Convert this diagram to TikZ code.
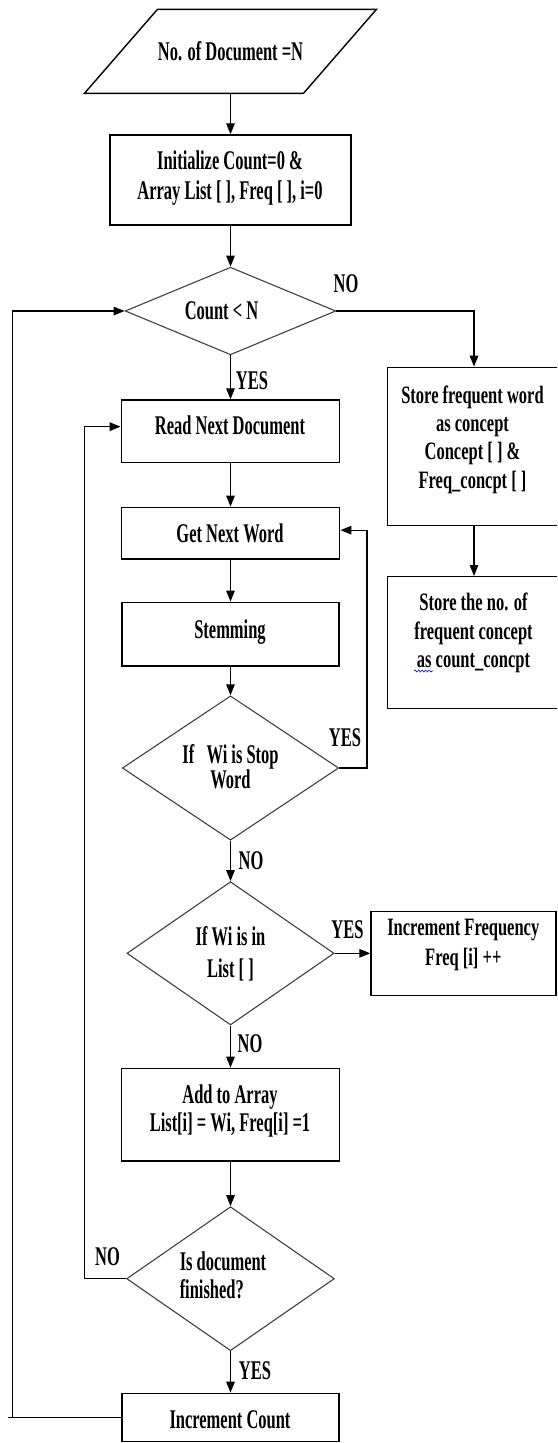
\documentclass[tikz,border=0pt]{standalone}
\usepackage{fontspec}
\newfontfamily\fA{Liberation Serif}[FakeStretch=0.61]
\newfontfamily\fB{Liberation Serif}[FakeStretch=0.66]
\usetikzlibrary{arrows.meta,shapes.geometric,decorations.pathmorphing}
\tikzset{
 procbox/.style={draw, line width=1.4pt, inner sep=0pt, rectangle},
 decision/.style={draw=black!75, line width=1.1pt, diamond, inner sep=0pt},
 maintext/.style={font=\fA\bfseries\fontsize{27}{30}\selectfont, align=center, inner sep=0pt},
 sidetext/.style={font=\fB\bfseries\fontsize{25}{28.5}\selectfont, align=center, inner sep=0pt},
 lbl/.style={font=\fA\bfseries\fontsize{27}{30}\selectfont, inner sep=0pt},
 conn/.style={line width=1.3pt, -{Triangle[length=11pt,width=8.5pt]}},
 plainline/.style={line width=1.3pt},
}
\begin{document}
\begin{tikzpicture}[x=1pt,y=-1pt]
\useasboundingbox (0,0) rectangle (557,1443);
\clip (0,0) rectangle (557,1443);

% input parallelogram
\node[maintext, minimum width=150pt, minimum height=84pt] (inp) at (230.5,51.3) {No. of Document =N};
\draw[line width=1.4pt] (157.5,9.3) -- (376.5,9.3) -- (303.5,93.3) -- (84.5,93.3) -- cycle;

% process boxes
\node[procbox, minimum width=241pt, minimum height=90pt] (init) at (230.5,180) {};
\node[maintext] (initT) at (230,178) {Initialize Count=0 \&\\Array List [ ], Freq [ ], i=0};

\node[decision, minimum width=210.7pt, minimum height=87.6pt] (cnt) at (230.5,311) {};
\node[maintext] (cntT) at (221.5,311) {Count < N};

\node[procbox, minimum width=218.5pt, minimum height=62.3pt] (read) at (230.5,431.15) {};
\node[maintext] (readT) at (230,425) {Read Next Document};

\node[procbox, minimum width=218.5pt, minimum height=51.7pt] (get) at (230.5,533.15) {};
\node[maintext] (getT) at (230,533) {Get Next Word};

\node[procbox, minimum width=217pt, minimum height=63.7pt] (stem) at (230.5,634.15) {};
\node[maintext] (stemT) at (230,632) {Stemming};

\node[decision, minimum width=216.4pt, minimum height=144.3pt] (stop) at (230.5,768) {};
\node[maintext, font=\fA\bfseries\fontsize{27}{25}\selectfont] (stopT) at (230.5,767) {If\ \ \ Wi is Stop\\Word};

\node[decision, minimum width=207.2pt, minimum height=143.3pt] (inl) at (230.5,953.3) {};
\node[maintext, font=\fA\bfseries\fontsize{27}{31.6}\selectfont] (inlT) at (230.5,954) {If Wi is in\\List [ ]};

\node[procbox, minimum width=185pt, minimum height=84pt] (incf) at (463.5,953.3) {};
\node[sidetext, font=\fB\bfseries\fontsize{25}{30}\selectfont] (incfT) at (463.3,945) {Increment Frequency\\Freq [i] ++};

\node[procbox, minimum width=218.5pt, minimum height=92.7pt] (add) at (230.5,1114.65) {};
\node[maintext, font=\fA\bfseries\fontsize{27}{28.3}\selectfont] (addT) at (230,1111) {Add to Array\\List[i] = Wi, Freq[i] =1};

\node[decision, minimum width=207.8pt, minimum height=144pt] (fin) at (230.5,1278.7) {};
\node[maintext, align=left, font=\fA\bfseries\fontsize{27}{28}\selectfont] (finT) at (223,1275) {Is document\\finished?};

\node[procbox, minimum width=217pt, minimum height=48.2pt] (incc) at (230.5,1417.4) {};
\node[maintext] (inccT) at (230,1420) {Increment Count};

% right column (boxes run past the right edge of the picture)
\node[procbox, minimum width=178pt, minimum height=158.4pt] (store1) at (476.5,446.5) {};
\node[sidetext, font=\fB\bfseries\fontsize{25}{28.3}\selectfont] (s1T) at (472.5,439.5) {Store frequent word\\as concept\\Concept [ ] \&\\Freq\_concpt [ ]};

\node[procbox, minimum width=178pt, minimum height=131.6pt] (store2) at (476.5,642.5) {};
\node[sidetext, font=\fB\bfseries\fontsize{25}{28.5}\selectfont] (s2T) at (473.5,633) {Store the no. of\\frequent concept\\as count\_concpt};
\draw[blue!85!black, line width=0.6pt, decorate, decoration={snake, amplitude=1pt, segment length=3.5pt}] (414,671) -- (433,671);

% labels
\node[lbl] (no1) at (346,284) {NO};
\node[lbl] (yes1) at (252,381) {YES};
\node[lbl] (yes2) at (345,738) {YES};
\node[lbl] (no2) at (251,861) {NO};
\node[lbl] (yes3) at (347.5,930) {YES};
\node[lbl] (no3) at (250,1044) {NO};
\node[lbl] (no4) at (107.5,1257) {NO};
\node[lbl] (yes4) at (255,1371) {YES};

% helper coordinates
\coordinate (r1) at (367,768);
\coordinate (l1) at (84.2,1278.7);
\coordinate (l2) at (8,1417.4);
\coordinate (l3) at (12.4,1417.4);

% connectors
\draw[conn] (inp.south) -- (inp.south |- init.north);
\draw[conn] (init.south) -- (init.south |- cnt.north);
\draw[conn] (cnt.east) -| ([xshift=-2.5pt]store1.north);
\draw[conn] ([xshift=-2.5pt]store1.south) -- ([xshift=-2.5pt]store2.north);
\draw[conn] (cnt.south) -- (cnt.south |- read.north);
\draw[conn] (read.south) -- (read.south |- get.north);
\draw[conn] (get.south) -- (get.south |- stem.north);
\draw[conn] (stem.south) -- (stem.south |- stop.north);
\draw[conn] (stop.east) -- (r1) |- ([yshift=3pt]get.east);
\draw[conn] (stop.south) -- (stop.south |- inl.north);
\draw[conn] (inl.east) -- (inl.east -| incf.west);
\draw[conn] (inl.south) -- (inl.south |- add.north);
\draw[conn] (add.south) -- (add.south |- fin.north);
\draw[conn] (fin.west) -- (l1) |- ([yshift=4.5pt]read.west);
\draw[conn] (fin.south) -- (fin.south |- incc.north);
\draw[plainline] (incc.west) -- (l2);
\draw[conn] (l3) |- (cnt.west);
\end{tikzpicture}
\end{document}
